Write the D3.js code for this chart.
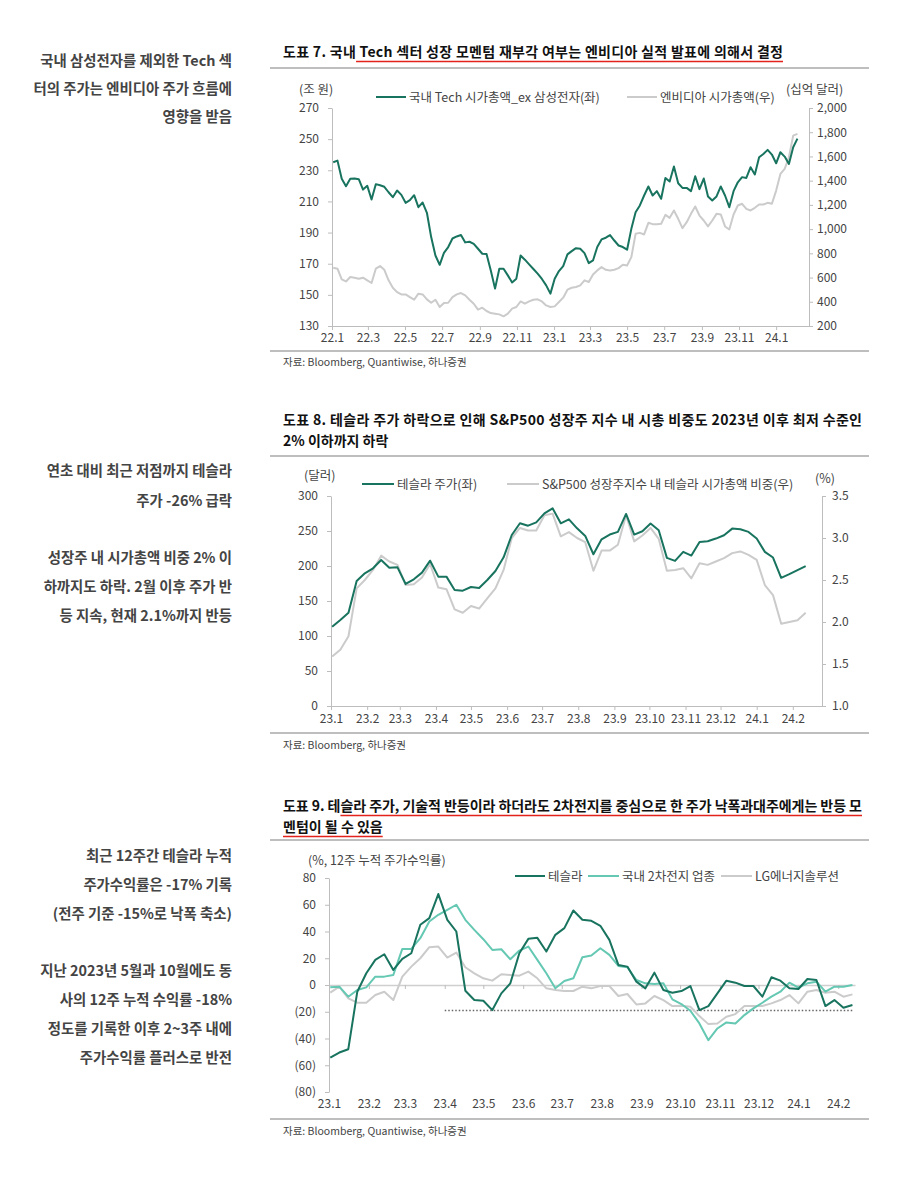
<!DOCTYPE html>
<html>
<head>
<meta charset="utf-8">
<script src="https://cdn.jsdelivr.net/npm/d3@7"></script>
<style>
  body { margin: 0; background: #fff; }
  text { font-family: "Noto Sans CJK KR", "Noto Sans", sans-serif; }
</style>
</head>
<body>
<script>
// ---- chart 7 : weekly, from 2022-01-03 ----
var techStart = "2022-01-03";
var techCap = [235.2,236.2,224.5,219.8,224.5,224.7,224.3,217.6,220.0,211.2,221.1,220.4,219.4,215.9,212.7,217.0,214.2,209.1,210.8,214.0,
  206.3,209.3,202.7,187.1,175.3,169.3,177.0,180.7,186.2,187.5,188.4,183.7,184.1,182.8,179.6,176.4,176.2,165.7,154.0,166.8,
  166.8,162.5,158.0,160.4,175.3,172.6,169.6,166.6,163.6,160.2,156.1,150.8,160.4,165.3,168.5,
  176.0,178.1,180.0,179.6,176.8,170.4,172.1,180.7,185.6,186.7,188.4,184.9,181.7,180.7,179.0,192.4,203.1,207.4,213.8,219.6,
  213.8,216.6,211.7,225.1,222.8,232.4,221.7,218.7,218.7,216.6,226.2,217.9,224.7,213.2,210.6,213.2,219.6,213.8,206.3,216.6,
  222.3,225.6,225.1,232.0,227.3,238.4,240.5,243.1,240.1,234.5,241.6,238.8,234.1,244.8,250.3];
var nvdaCap = [681,673,585,568,604,599,590,599,577,555,673,695,664,577,516,480,461,461,439,417,
  467,461,420,392,417,357,390,392,439,461,472,453,417,384,335,351,324,307,302,296,
  280,302,343,357,403,384,403,417,420,403,370,357,362,398,434,
  500,516,522,535,577,563,626,659,686,664,659,664,678,706,700,769,961,969,956,1052,
  1041,1041,1044,1118,1093,1154,1085,1008,1057,1126,1187,1112,1071,1022,1071,1126,1121,1022,997,1121,
  1195,1209,1167,1154,1176,1203,1203,1217,1209,1318,1456,1497,1593,1772,1786];
var techTicksL = [130,150,170,190,210,230,250,270];
var techTicksR = [200,400,600,800,1000,1200,1400,1600,1800,2000];

// ---- chart 8 : weekly, from 2023-01-02 ----
var tslaStart = "2023-01-02";
var tslaPrice = [113.3,122.9,133.3,178.6,189.5,196.7,208.6,197.6,198.1,174.3,181.0,190.5,207.6,184.8,184.8,165.7,164.8,170.0,168.6,180.0,
  192.9,212.4,244.3,261.0,257.6,262.4,275.2,282.4,261.0,266.7,253.8,
  243.0,216.8,238.2,244.9,248.7,274.4,244.9,249.6,260.6,251.1,211.6,207.3,220.2,214.9,234.4,235.4,239.2,243.9,253.4,252.5,
  248.7,239.2,220.2,212.1,183.1,188.3,194.0,199.7];
var tslaWeight = [1.59,1.67,1.83,2.40,2.50,2.62,2.79,2.72,2.68,2.44,2.45,2.53,2.69,2.41,2.39,2.15,2.11,2.19,2.16,2.28,
  2.40,2.62,3.00,3.12,3.09,3.09,3.27,3.29,3.02,3.07,3.00,
  2.95,2.61,2.85,2.85,2.92,3.27,2.96,3.03,3.12,2.99,2.61,2.62,2.64,2.52,2.70,2.68,2.72,2.76,2.82,2.84,
  2.80,2.74,2.44,2.32,1.98,2.00,2.02,2.11];
var tslaTicksL = [0,50,100,150,200,250,300];
var tslaTicksR = [1.0,1.5,2.0,2.5,3.0,3.5];

// ---- chart 9 : 12-week returns, weekly, from 2023-01-02 ----
var retStart = "2023-01-02";
var retTesla = [-54.25,-50.5,-48,-5,8.75,18.75,23,11.25,19.5,23.75,45,50,68,48.75,40,-4.25,-11.25,-11.75,-18.75,-6.25,
  1.25,23.75,34.5,35.25,25,37.5,42.5,55.75,
  48.75,48,44.25,33.75,15,13.75,2.5,-2.5,9.25,-3.75,-5.75,-4.5,-0.75,-18.75,-15.75,-6.25,3.25,1.75,-0.75,-0.75,
  -8.75,5.75,3.25,-2.5,-3,4.5,3.75,-15.75,-11.25,-17,-15];
var retBattery = [-1.75,-1.25,-8.75,-3.75,-1.75,6.25,6.25,7.5,27,27,35,47.5,52.5,56.25,60,48.75,41.25,34.25,26.25,26.75,
  19.25,25.75,28.75,18.75,8.75,-2.5,3,5,
  20.75,22,27.5,22.5,14.25,13.25,3.75,1.25,0.75,1.25,-10.75,-14.25,-19.25,-28.75,-41.25,-32.5,-28,-28.75,-22.5,-17.5,
  -13.25,-8.75,-5,1.75,-2,1.25,2.5,-5,-1.25,-1.25,0];
var retLges = [-5.75,-1.25,-10,-13.25,-13.25,-7.5,-5,-11.25,6.25,13.75,20,28.25,28.75,20.5,24.25,13.25,8.75,5,3.25,8,
  7.5,7,10,5,-2.5,-3.75,-4.5,-4.5,
  -1.25,-2.5,-0.75,-0.75,-8.25,-6.75,-14.5,-13.75,-8.25,-11.25,-15.75,-15.5,-16.25,-23.25,-29.25,-28.75,-23.75,-21.75,-15.75,-15.75,
  -15.75,-13.75,-11.25,-7.5,-13.75,-5,-3.75,-5.75,-5,-8.75,-7];
var retTicks = [-80,-60,-40,-20,0,20,40,60,80];
var retRefLevel = -19;
var retRefFrom = "2023-04-01";

var DARK = "#18735f", TEAL = "#64c8b3", GRAY = "#cbcbcb", AXIS = "#bdbdbd", LABEL = "#444";

var svg = d3.select("body").append("svg").attr("width", 900).attr("height", 1184);
svg.append("rect").attr("width", 900).attr("height", 1184).attr("fill", "#fff");

var parse = d3.timeParse("%Y-%m-%d");

function weekly(start, values) {
  var t0 = parse(start);
  return values.map(function(v, i) { return { date: d3.timeDay.offset(t0, i * 7), value: v }; });
}

function monthLabel(d) {
  return String(d.getFullYear()).slice(2) + "." + (d.getMonth() + 1);
}

/**
 * Title lines, first line stretched to a width, red underline from a char index
 */
function drawTitle(lines, y, ulFrom, width) {
  lines.forEach(function(line, i) {
    var t = svg.append("text")
      .attr("x", 283).attr("y", y + i * 21)
      .attr("font-size", 14).attr("font-weight", 700).attr("fill", "#111")
      .text(line);
    if (i === 0) t.attr("textLength", width).attr("lengthAdjust", "spacing");
    if (ulFrom >= 0) {
      var node = t.node();
      var a = i === 0 ? node.getStartPositionOfChar(ulFrom).x : 283;
      var b = node.getEndPositionOfChar(line.length - 1).x;
      svg.append("line").attr("x1", a).attr("x2", b)
        .attr("y1", y + i * 21 + 4.5).attr("y2", y + i * 21 + 4.5)
        .attr("stroke", "#e3231b").attr("stroke-width", 1.6);
    }
  });
}

function rule(y) {
  svg.append("line").attr("x1", 270).attr("x2", 869).attr("y1", y).attr("y2", y)
    .attr("stroke", "#a9a9a9").attr("stroke-width", 1.5);
}

function note(y, txt) {
  svg.append("text").attr("x", 283).attr("y", y).attr("font-size", 10.5).attr("fill", LABEL).text(txt);
}

function sideText(lines, ys) {
  lines.forEach(function(l, i) {
    svg.append("text").attr("x", 232).attr("y", ys[i]).attr("text-anchor", "end")
      .attr("font-size", 14.4).attr("font-weight", 700).attr("fill", "#444").text(l);
  });
}

function legendItem(x1, x2, y, color, label) {
  svg.append("line").attr("x1", x1).attr("x2", x2).attr("y1", y).attr("y2", y)
    .attr("stroke", color).attr("stroke-width", 2);
  svg.append("text").attr("x", x2 + 3).attr("y", y + 4.5).attr("font-size", 12.5).attr("fill", LABEL).text(label);
}

function styleAxis(g) {
  g.selectAll(".domain").attr("stroke", AXIS).attr("stroke-width", 1);
  g.selectAll(".tick line").attr("stroke", AXIS);
  g.selectAll(".tick text").attr("fill", LABEL).attr("font-size", 12)
    .attr("font-family", '"Noto Sans CJK KR", "Noto Sans", sans-serif');
}

function drawLine(data, x, y, color) {
  svg.append("path").datum(data)
    .attr("fill", "none").attr("stroke", color).attr("stroke-width", 2)
    .attr("stroke-linejoin", "round")
    .attr("d", d3.line().x(function(d) { return x(d.date); }).y(function(d) { return y(d.value); }));
}

function paren(v) { return v < 0 ? "(" + (-v) + ")" : String(v); }

// ================= chart 7 =================
drawTitle(["도표 7. 국내 Tech 섹터 성장 모멘텀 재부각 여부는 엔비디아 실적 발표에 의해서 결정"], 57, 8, 500);
rule(68);
sideText(["국내 삼성전자를 제외한 Tech 섹", "터의 주가는 엔비디아 주가 흐름에", "영향을 받음"], [66, 94, 122]);

(function() {
  var x = d3.scaleTime().domain([parse("2022-01-01"), parse("2024-02-24")]).range([332, 809]);
  var yL = d3.scaleLinear().domain([130, 270]).range([326, 108]);
  var yR = d3.scaleLinear().domain([200, 2000]).range([326, 108]);

  var gx = svg.append("g").attr("transform", "translate(0,326)")
    .call(d3.axisBottom(x).tickValues(d3.timeMonth.range(parse("2022-01-01"), parse("2024-01-02"), 2))
      .tickFormat(monthLabel).tickSize(4).tickSizeOuter(0).tickPadding(3));
  styleAxis(gx);
  var gl = svg.append("g").attr("transform", "translate(332,0)")
    .call(d3.axisLeft(yL).tickValues(techTicksL).tickSize(4).tickSizeOuter(0).tickPadding(9));
  styleAxis(gl);
  var gr = svg.append("g").attr("transform", "translate(809,0)")
    .call(d3.axisRight(yR).tickValues(techTicksR).tickFormat(d3.format(",")).tickSize(4).tickSizeOuter(0).tickPadding(4));
  styleAxis(gr);

  svg.append("text").attr("x", 299).attr("y", 94).attr("font-size", 12.5).attr("fill", LABEL).text("(조 원)");
  svg.append("text").attr("x", 786).attr("y", 94).attr("font-size", 12.5).attr("fill", LABEL).text("(십억 달러)");
  legendItem(376, 406, 97, DARK, "국내 Tech 시가총액_ex 삼성전자(좌)");
  legendItem(627, 657, 97, GRAY, "엔비디아 시가총액(우)");

  drawLine(weekly(techStart, nvdaCap), x, yR, GRAY);
  drawLine(weekly(techStart, techCap), x, yL, DARK);
})();
rule(351);
note(366, "자료: Bloomberg, Quantiwise, 하나증권");

// ================= chart 8 =================
drawTitle(["도표 8. 테슬라 주가 하락으로 인해 S&P500 성장주 지수 내 시총 비중도 2023년 이후 최저 수준인", "2% 이하까지 하락"], 425, -1, 579);
rule(456);
sideText(["연초 대비 최근 저점까지 테슬라", "주가 -26% 급락", "성장주 내 시가총액 비중 2% 이", "하까지도 하락. 2월 이후 주가 반", "등 지속, 현재 2.1%까지 반등"],
  [476, 506, 563, 592, 621]);

(function() {
  var x = d3.scaleTime().domain([parse("2023-01-01"), parse("2024-02-26")]).range([331, 822]);
  var yL = d3.scaleLinear().domain([0, 300]).range([706, 496]);
  var yR = d3.scaleLinear().domain([1.0, 3.5]).range([706, 496]);

  var gx = svg.append("g").attr("transform", "translate(0,706)")
    .call(d3.axisBottom(x).tickValues(d3.timeMonth.range(parse("2023-01-01"), parse("2024-02-02"), 1))
      .tickFormat(monthLabel).tickSize(4).tickSizeOuter(0).tickPadding(4));
  styleAxis(gx);
  var gl = svg.append("g").attr("transform", "translate(331,0)")
    .call(d3.axisLeft(yL).tickValues(tslaTicksL).tickSize(4).tickSizeOuter(0).tickPadding(9));
  styleAxis(gl);
  var gr = svg.append("g").attr("transform", "translate(822,0)")
    .call(d3.axisRight(yR).tickValues(tslaTicksR).tickFormat(d3.format(".1f")).tickSize(4).tickSizeOuter(0).tickPadding(6));
  styleAxis(gr);

  svg.append("text").attr("x", 304).attr("y", 480).attr("font-size", 12.5).attr("fill", LABEL).text("(달러)");
  svg.append("text").attr("x", 815).attr("y", 483).attr("font-size", 12.5).attr("fill", LABEL).text("(%)");
  legendItem(362, 394, 484, DARK, "테슬라 주가(좌)");
  legendItem(507, 539, 484, GRAY, "S&P500 성장주지수 내 테슬라 시가총액 비중(우)");

  drawLine(weekly(tslaStart, tslaWeight), x, yR, GRAY);
  drawLine(weekly(tslaStart, tslaPrice), x, yL, DARK);
})();
rule(733);
note(749, "자료: Bloomberg, 하나증권");

// ================= chart 9 =================
drawTitle(["도표 9. 테슬라 주가, 기술적 반등이라 하더라도 2차전지를 중심으로 한 주가 낙폭과대주에게는 반등 모", "멘텀이 될 수 있음"], 811, 7, 579);
rule(840);
sideText(["최근 12주간 테슬라 누적", "주가수익률은 -17% 기록", "(전주 기준 -15%로 낙폭 축소)",
  "지난 2023년 5월과 10월에도 동", "사의 12주 누적 수익률 -18%", "정도를 기록한 이후 2~3주 내에", "주가수익률 플러스로 반전"],
  [861, 890, 919, 976, 1005, 1034, 1063]);

(function() {
  var x = d3.scaleTime().domain([parse("2023-01-01"), parse("2024-02-14")]).range([329, 855]);
  var y = d3.scaleLinear().domain([-80, 80]).range([1092, 878]);

  var gl = svg.append("g").attr("transform", "translate(329,0)")
    .call(d3.axisLeft(y).tickValues(retTicks).tickFormat(paren).tickSize(4).tickSizeOuter(0).tickPadding(9));
  styleAxis(gl);
  var months = d3.timeMonth.range(parse("2023-01-01"), parse("2024-02-02"), 1);
  // zero line with month ticks
  var gz = svg.append("g").attr("transform", "translate(0," + y(0) + ")")
    .call(d3.axisBottom(x).tickValues(months).tickFormat("").tickSize(4).tickSizeOuter(0));
  styleAxis(gz);
  gz.select(".domain").attr("stroke", "#cfcfcf").attr("stroke-width", 1.6);
  // labels at the bottom
  var gb = svg.append("g").attr("transform", "translate(0,1092)")
    .call(d3.axisBottom(x).tickValues(months).tickFormat(monthLabel).tickSize(0).tickPadding(7));
  styleAxis(gb);
  gb.select(".domain").remove();

  svg.append("line")
    .attr("x1", x(parse(retRefFrom))).attr("x2", x(parse("2024-02-13")))
    .attr("y1", y(retRefLevel)).attr("y2", y(retRefLevel))
    .attr("stroke", "#666").attr("stroke-width", 1.5).attr("stroke-dasharray", "1.5,2");

  svg.append("text").attr("x", 308).attr("y", 865).attr("font-size", 12.5).attr("fill", LABEL).text("(%, 12주 누적 주가수익률)");
  legendItem(515, 545, 876, DARK, "테슬라");
  legendItem(588, 619, 876, TEAL, "국내 2차전지 업종");
  legendItem(721, 752, 876, GRAY, "LG에너지솔루션");

  drawLine(weekly(retStart, retLges), x, y, GRAY);
  drawLine(weekly(retStart, retBattery), x, y, TEAL);
  drawLine(weekly(retStart, retTesla), x, y, DARK);
})();
rule(1119);
note(1135, "자료: Bloomberg, Quantiwise, 하나증권");
</script>
</body>
</html>
